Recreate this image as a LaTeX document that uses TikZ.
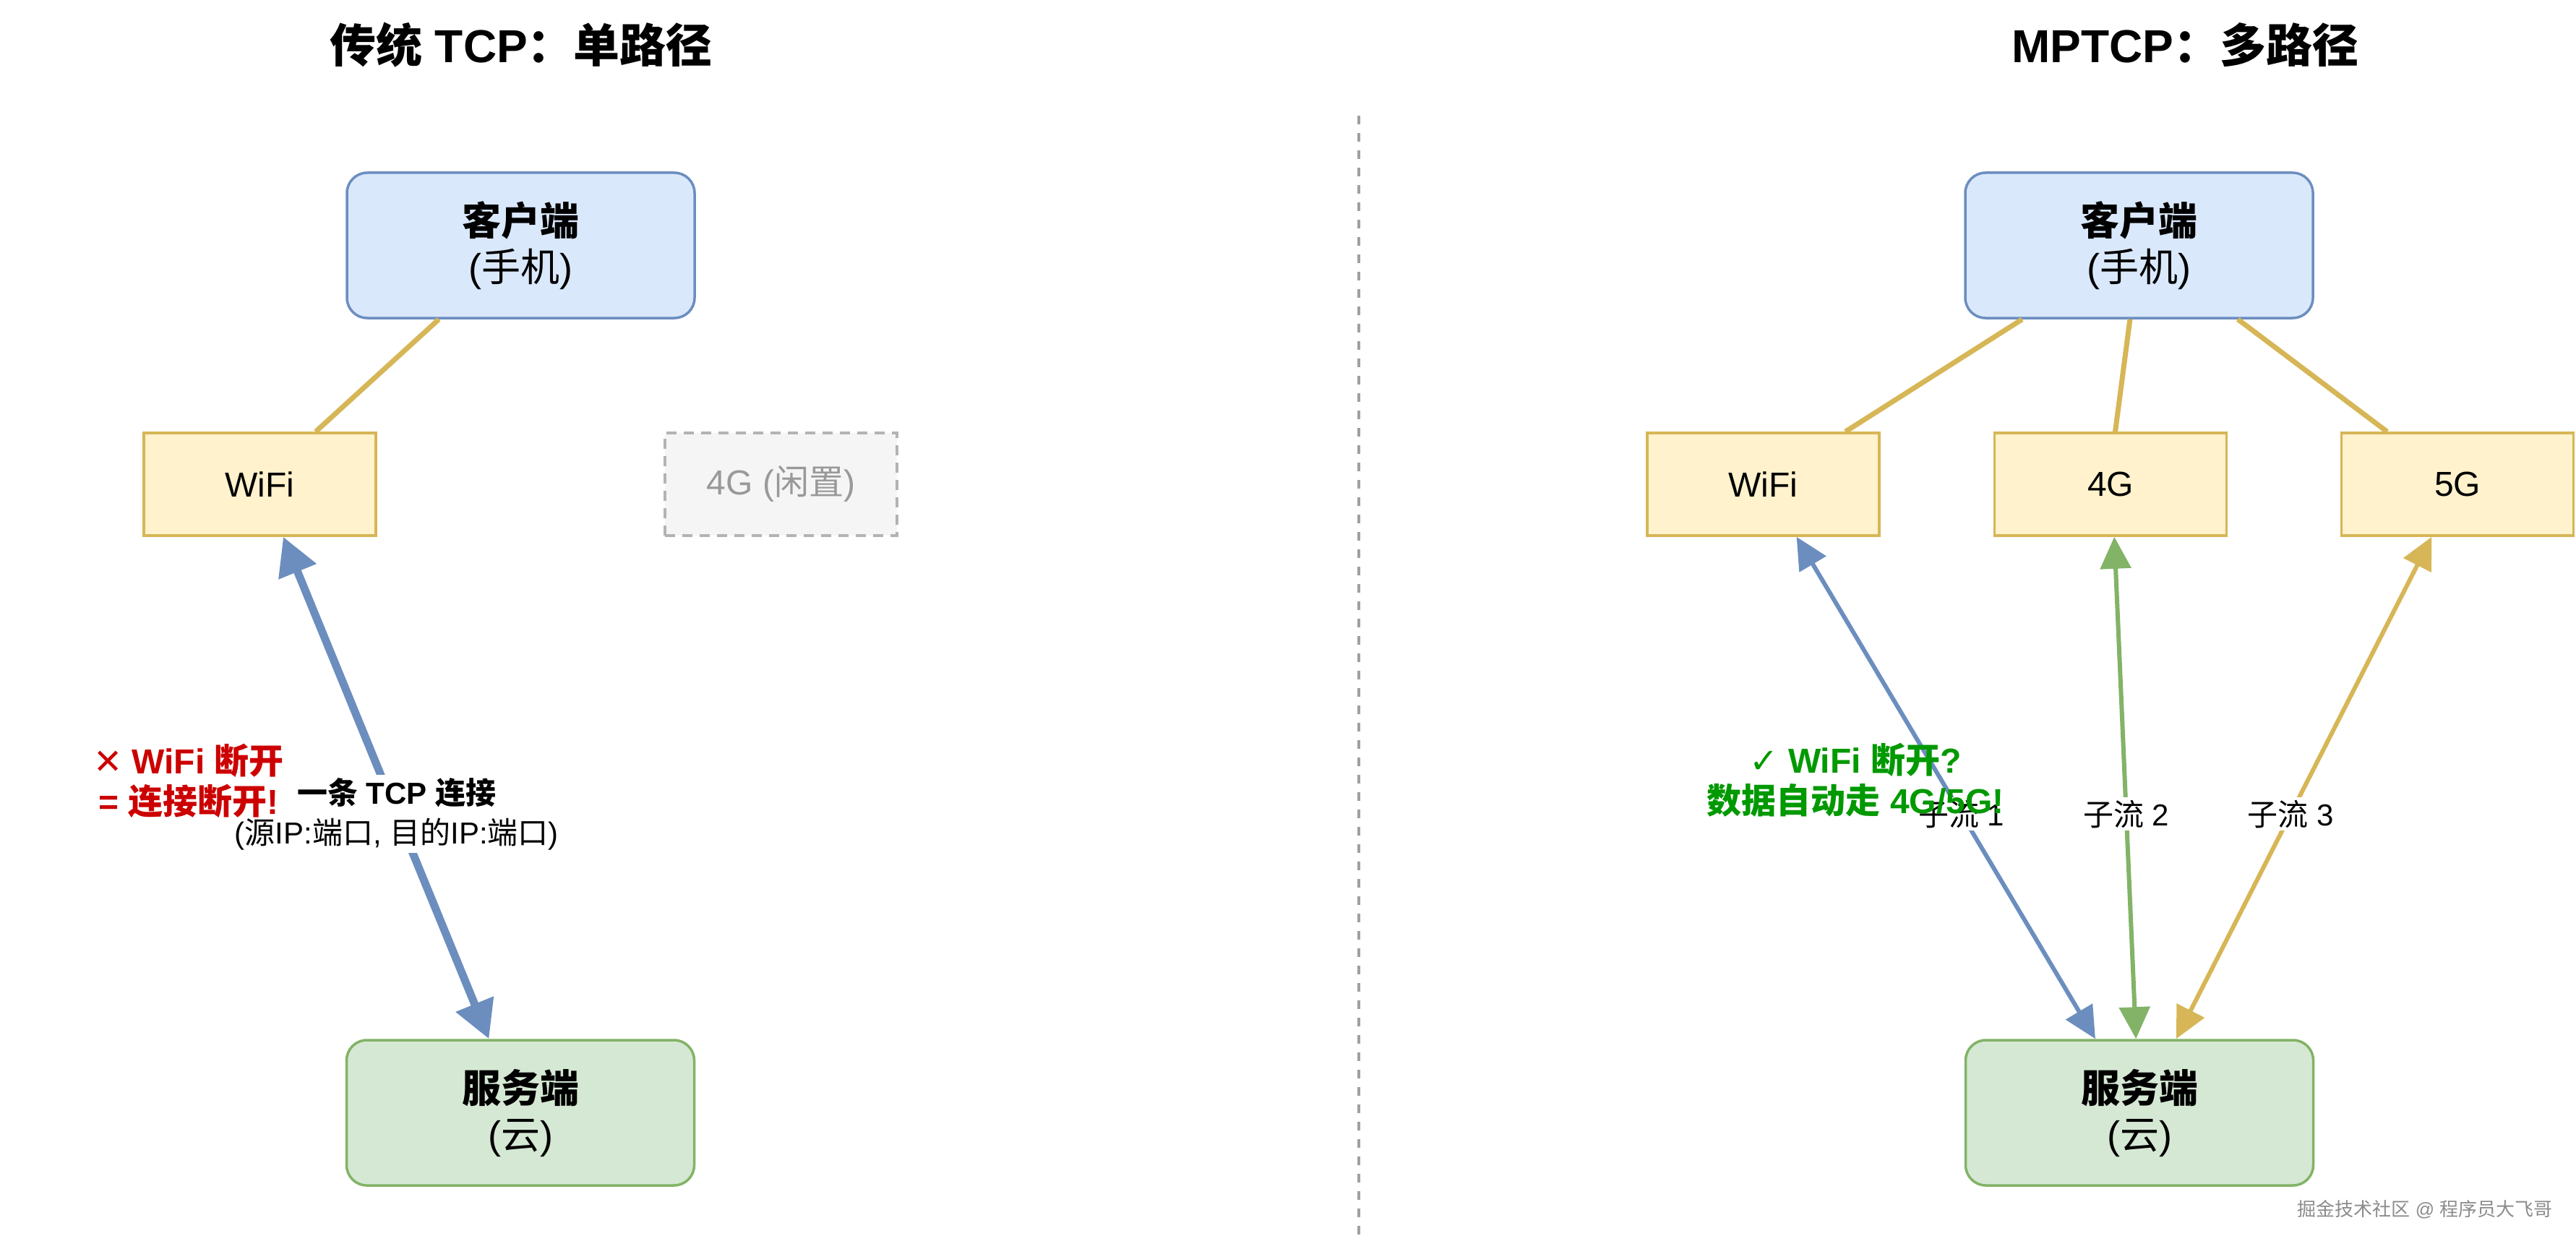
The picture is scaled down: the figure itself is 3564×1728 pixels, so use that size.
\documentclass[tikz,border=0pt]{standalone}
\usepackage{fontspec}
\setmainfont{Liberation Sans}
\newfontfamily\cjk{Noto Sans CJK SC}
\newfontfamily\symf{DejaVu Sans}
\newcommand\zh[1]{{\cjk #1}}
\usetikzlibrary{arrows.meta,calc}
\definecolor{bluefill}{HTML}{DAE8FC}
\definecolor{bluedraw}{HTML}{6C8EBF}
\definecolor{greenfill}{HTML}{D5E8D4}
\definecolor{greendraw}{HTML}{82B366}
\definecolor{yellowfill}{HTML}{FFF2CC}
\definecolor{yellowdraw}{HTML}{D6B656}
\definecolor{grayfill}{HTML}{F5F5F5}
\definecolor{graydraw}{HTML}{B3B3B3}
\definecolor{graytext}{HTML}{999999}
\definecolor{divgray}{HTML}{A0A0A0}
\definecolor{warnred}{HTML}{CC0000}
\definecolor{okgreen}{HTML}{009900}
\definecolor{wmgray}{HTML}{8C8C8C}
\begin{document}
\begin{tikzpicture}[x=0.5pt,y=-0.5pt,
  boxbase/.style={draw, line width=1.75pt, align=center, inner sep=0pt},
  endbox/.style={boxbase, rounded corners=14pt, minimum width=240.5pt, minimum height=100.5pt, font=\fontsize{27}{32}\selectfont},
  clientbox/.style={endbox, fill=bluefill, draw=bluedraw},
  serverbox/.style={endbox, fill=greenfill, draw=greendraw},
  netbox/.style={boxbase, minimum width=160.5pt, minimum height=71pt, fill=yellowfill, draw=yellowdraw, font=\fontsize{24}{29}\selectfont},
  idlebox/.style={netbox, fill=grayfill, draw=graydraw, dash pattern=on 7pt off 5pt, text=graytext},
  link/.style={draw=yellowdraw, line width=3.5pt},
  flowL/.style={line width=5.5pt, draw=bluedraw, {Triangle[length=26pt,width=27pt]}-{Triangle[length=26pt,width=27pt]}},
  flow/.style={line width=3pt, {Triangle[length=22pt,width=21pt]}-{Triangle[length=22pt,width=21pt]}},
  lbl/.style={fill=white, inner sep=2pt, align=center, text=black, font=\fontsize{21}{27.5}\selectfont},
  note/.style={align=center, inner sep=0pt, font=\fontsize{24}{28}\selectfont\bfseries},
  title/.style={inner sep=0pt, font=\fontsize{32}{40}\selectfont\bfseries}
]
\useasboundingbox (0,0) rectangle (3564,1728);
\fill[white] (0,0) rectangle (3564,1728);

% titles
\node[title] (tl) at (721,62) {\zh{传统} TCP\zh{：单路径}};
\node[title] (tr) at (3023,62) {MPTCP\zh{：多路径}};

% divider
\draw[dash pattern=on 6pt off 6pt, line width=2pt, draw=divgray] (1880,160) -- (1880,1708);

% left side
\node[clientbox] (lc) at (720.5,339.5) {{\bfseries\zh{客户端}}\\(\zh{手机})};
\node[netbox] (lw) at (359.5,670) {WiFi};
\node[idlebox] (l4) at (1080.5,670) {4G (\zh{闲置})};
\node[serverbox] (ls) at (720,1539.5) {{\bfseries\zh{服务端}}\\(\zh{云})};

\draw[link] ($(lc.south west)!0.266!(lc.south east)$) -- ($(lw.north west)!0.738!(lw.north east)$);
\draw[flowL] ($(lw.south west)!0.60!(lw.south east)$) -- node[lbl, pos=0.552] (lblL)
  {{\bfseries\zh{一条} TCP \zh{连接}}\\(\zh{源}IP:\zh{端口}, \zh{目的}IP:\zh{端口})}
  ($(ls.north west)!0.41!(ls.north east)$);

\node[note, text=warnred] (rn) at (261,1080) {{\symf\mdseries ✕} WiFi \zh{断开}\\= \zh{连接断开}!};

% right side
\node[clientbox] (rc) at (2959.5,339.5) {{\bfseries\zh{客户端}}\\(\zh{手机})};
\node[netbox] (rw) at (2439.5,670) {WiFi};
\node[netbox] (r4) at (2920,670) {4G};
\node[netbox] (r5) at (3400,670) {5G};
\node[serverbox] (rs) at (2960,1539.5) {{\bfseries\zh{服务端}}\\(\zh{云})};

\draw[link] ($(rc.south west)!0.166!(rc.south east)$) -- ($(rw.north west)!0.85!(rw.north east)$);
\draw[link] ($(rc.south west)!0.474!(rc.south east)$) -- ($(r4.north west)!0.52!(r4.north east)$);
\draw[link] ($(rc.south west)!0.782!(rc.south east)$) -- ($(r5.north west)!0.2!(r5.north east)$);

\draw[flow, draw=bluedraw] ($(rw.south west)!0.642!(rw.south east)$) -- node[lbl, pos=0.552] (sf1) {\zh{子流} 1}
  ($(rs.north west)!0.374!(rs.north east)$);
\draw[flow, draw=greendraw] ($(r4.south west)!0.516!(r4.south east)$) -- node[lbl, pos=0.552] (sf2) {\zh{子流} 2}
  ($(rs.north west)!0.49!(rs.north east)$);
\draw[flow, draw=yellowdraw] ($(r5.south west)!0.39!(r5.south east)$) -- node[lbl, pos=0.552] (sf3) {\zh{子流} 3}
  ($(rs.north west)!0.605!(rs.north east)$);

\node[note, text=okgreen] (gn) at (2567,1079) {{\symf\mdseries ✓} WiFi \zh{断开}?\\\zh{数据自动走} 4G/5G!};

% watermark
\node[inner sep=0pt, text=wmgray, font=\fontsize{13}{16}\selectfont] (wm) at (3355,1673) {\zh{掘金技术社区} @ \zh{程序员大飞哥}};
\end{tikzpicture}
\end{document}
